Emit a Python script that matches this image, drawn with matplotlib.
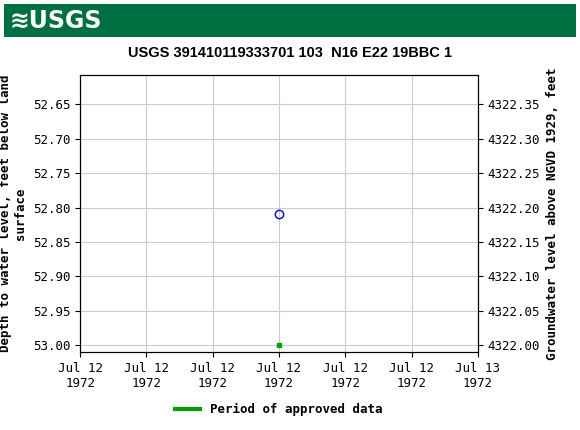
import matplotlib
matplotlib.use('Agg')
import matplotlib.pyplot as plt
from datetime import datetime, timedelta

# measurement
obs_time = [datetime(1972, 7, 12, 12, 0)]
obs_depth = [52.81]
approved_time = [datetime(1972, 7, 12, 12, 0)]
approved_depth = [53.00]
DATUM = 4375.0  # elevation = DATUM - depth

x_start = datetime(1972, 7, 12)
x_end = datetime(1972, 7, 13)

fig = plt.figure(figsize=(5.8, 4.3), dpi=100)
# header band
hdr = fig.add_axes([0.007, 0.915, 0.986, 0.075])
hdr.set_facecolor('#006f41')
hdr.set_xticks([]); hdr.set_yticks([])
for s in hdr.spines.values():
    s.set_visible(False)
hdr.text(0.01, 0.5, '≋USGS', color='white', fontsize=17, fontweight='bold',
         va='center', ha='left', transform=hdr.transAxes)

ax = fig.add_axes([0.138, 0.181, 0.686, 0.644])
ax.plot(obs_time, obs_depth, 'o', mfc='none', mec='#0000cc', ms=6, mew=1)
ax.plot(approved_time, approved_depth, 's', color='#00a000', ms=3)
ax.set_xlim(x_start, x_end)
ax.set_ylim(53.01, 52.608)
ax.set_yticks([52.65, 52.70, 52.75, 52.80, 52.85, 52.90, 52.95, 53.00])
ax.yaxis.set_major_formatter(plt.FormatStrFormatter('%.2f'))
ticks = [x_start + timedelta(hours=4 * i) for i in range(7)]
ax.set_xticks(ticks)
ax.set_xticklabels([t.strftime('%b %d\n%Y') for t in ticks])
ax.grid(True, color='#cccccc', lw=0.8)
mono = 'DejaVu Sans Mono'
for lab in ax.get_xticklabels() + ax.get_yticklabels():
    lab.set_family(mono); lab.set_fontsize(9)
ax.set_ylabel('Depth to water level, feet below land\nsurface', family=mono,
              fontsize=9, fontweight='bold')

ax2 = ax.twinx()
lo, hi = ax.get_ylim()
ax2.set_ylim(DATUM - lo, DATUM - hi)
ax2.set_yticks([4322.00 + 0.05 * i for i in range(8)])
ax2.yaxis.set_major_formatter(plt.FormatStrFormatter('%.2f'))
for lab in ax2.get_yticklabels():
    lab.set_family(mono); lab.set_fontsize(9)
ax2.set_ylabel('Groundwater level above NGVD 1929, feet', family=mono,
               fontsize=9, fontweight='bold')

fig.text(0.5, 0.877, 'USGS 391410119333701 103  N16 E22 19BBC 1',
         ha='center', va='center', fontsize=10.5, fontweight='bold',
         family='Liberation Sans', stretch='condensed')

fig.legend(handles=[plt.Line2D([], [], color='#00a000', lw=3)],
           labels=['Period of approved data'], loc='center',
           bbox_to_anchor=(0.48, 0.048), frameon=False,
           prop={'family': mono, 'size': 9, 'weight': 'bold'})

fig.savefig('out.png', dpi=100)
